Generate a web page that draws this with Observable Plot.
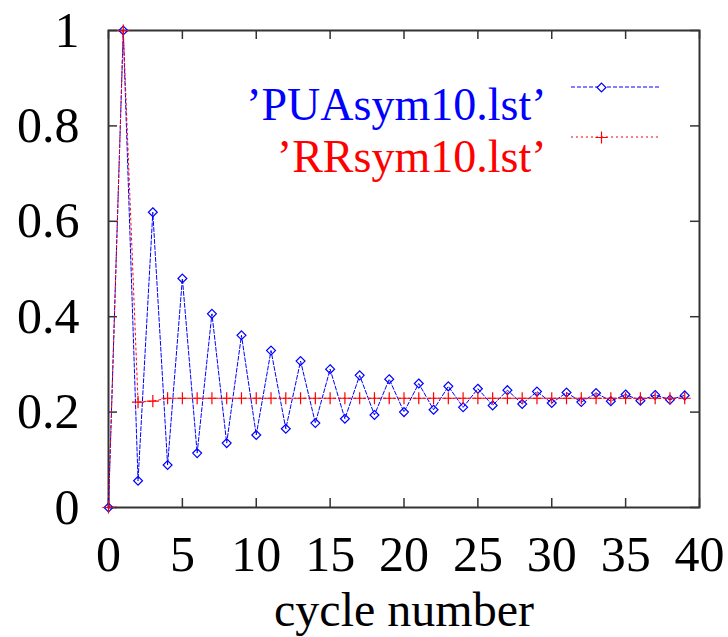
<!DOCTYPE html>
<html>
<head>
<meta charset="utf-8">
<script src="https://cdn.jsdelivr.net/npm/d3@7"></script>
<script src="https://cdn.jsdelivr.net/npm/@observablehq/plot@0.6"></script>
<style>
  html, body { margin: 0; padding: 0; background: #fff; }
  svg { display: block; }
</style>
</head>
<body>
<div id="chart"></div>
<script>
// ---- data ----
const cycles = [0,1,2,3,4,5,6,7,8,9,10,11,12,13,14,15,16,17,18,19,20,21,22,23,24,25,26,27,28,29,30,31,32,33,34,35,36,37,38,39];
const puaValues = [0, 1.0, 0.056, 0.619, 0.089, 0.480, 0.114, 0.406, 0.135, 0.361,
                   0.152, 0.329, 0.165, 0.307, 0.177, 0.290, 0.186, 0.277, 0.194, 0.269,
                   0.200, 0.260, 0.205, 0.254, 0.210, 0.249, 0.214, 0.246, 0.217, 0.243,
                   0.219, 0.241, 0.221, 0.240, 0.223, 0.237, 0.224, 0.236, 0.226, 0.235];
const rrValues = [0, 1.0, 0.221, 0.223, 0.229, 0.229, 0.229, 0.229, 0.229, 0.229,
                  0.229, 0.229, 0.229, 0.229, 0.229, 0.229, 0.229, 0.229, 0.229, 0.229,
                  0.229, 0.229, 0.229, 0.229, 0.229, 0.229, 0.229, 0.229, 0.229, 0.229,
                  0.229, 0.229, 0.229, 0.229, 0.229, 0.229, 0.229, 0.229, 0.229, 0.229];
const seriesNames = ["\u2019PUAsym10.lst\u2019", "\u2019RRsym10.lst\u2019"];
const xTicks = [0, 5, 10, 15, 20, 25, 30, 35, 40];
const yTicks = [0, 0.2, 0.4, 0.6, 0.8, 1];
const xLabel = "cycle number";

// ---- layout ----
const W = 728, H = 637;
const mL = 108, mR = 29, mT = 30, mB = 130;
const innerW = W - mL - mR, innerH = H - mT - mB;
const BLUE = "#0000ff", RED = "#ff0000", AXIS = "#333";
const TICK = 9;
const DIAMOND_R = 4, PLUS_R = 4;

const pua = cycles.map((c, i) => ({x: c, y: puaValues[i]}));
const rr = cycles.map((c, i) => ({x: c, y: rrValues[i]}));

const legend = [
  {name: seriesNames[0], color: BLUE, dash: "4,2", lineDy: 57, textDy: 57.3},
  {name: seriesNames[1], color: RED, dash: "2,3", lineDy: 107, textDy: 109.3}
];

function legendLines(index, scales, values, dims) {
  const g = d3.create("svg:g");
  const right = dims.width - dims.marginRight;
  const top = dims.marginTop;
  for (const item of legend) {
    g.append("line")
      .attr("x1", right - 128).attr("x2", right - 39)
      .attr("y1", top + item.lineDy).attr("y2", top + item.lineDy)
      .attr("stroke", item.color)
      .attr("stroke-width", 1)
      .attr("stroke-dasharray", item.dash);
  }
  return g.node();
}

const chart = Plot.plot({
  width: W, height: H,
  marginLeft: mL, marginRight: mR, marginTop: mT, marginBottom: mB,
  style: {fontFamily: "'Liberation Serif', 'Times New Roman', serif", fontSize: "50px", background: "#fff", color: "#000"},
  x: {domain: [0, 40]},
  y: {domain: [0, 1]},
  marks: [
    Plot.axisX(xTicks, {tickSize: 0, tickPadding: 28, tickFormat: d => String(d), fontSize: 50, label: null}),
    Plot.axisY(yTicks, {tickSize: 0, tickPadding: 29, tickFormat: d => String(d), fontSize: 50, label: null}),
    Plot.text([xLabel], {frameAnchor: "bottom", dy: 84, lineAnchor: "top", fontSize: 48, fill: "#000"}),
    // inward ticks (bottom, top, left, right)
    Plot.tickX(xTicks, {x: d => d, insetTop: innerH - TICK, stroke: AXIS, strokeWidth: 1.5}),
    Plot.tickX(xTicks, {x: d => d, insetBottom: innerH - TICK, stroke: AXIS, strokeWidth: 1.5}),
    Plot.tickY(yTicks, {y: d => d, insetRight: innerW - TICK, stroke: AXIS, strokeWidth: 1.5}),
    Plot.tickY(yTicks, {y: d => d, insetLeft: innerW - TICK, stroke: AXIS, strokeWidth: 1.5}),
    Plot.frame({stroke: AXIS, strokeWidth: 2}),
    // series
    Plot.line(pua, {x: "x", y: "y", stroke: BLUE, strokeWidth: 1, strokeDasharray: "4,2"}),
    Plot.dot(pua, {x: "x", y: "y", symbol: "diamond2", r: DIAMOND_R, stroke: BLUE, strokeWidth: 1.2, fill: "none"}),
    Plot.line(rr, {x: "x", y: "y", stroke: RED, strokeWidth: 1, strokeDasharray: "2,3"}),
    Plot.dot(rr, {x: "x", y: "y", symbol: "plus", r: PLUS_R, stroke: RED, strokeWidth: 1.2}),
    // legend
    Plot.text([legend[0]], {text: "name", fill: BLUE, frameAnchor: "top-right", textAnchor: "end", dx: -153, dy: legend[0].textDy, fontSize: 46}),
    Plot.text([legend[1]], {text: "name", fill: RED, frameAnchor: "top-right", textAnchor: "end", dx: -153, dy: legend[1].textDy, fontSize: 46}),
    legendLines,
    Plot.dot([legend[0]], {frameAnchor: "top-right", dx: -98, dy: legend[0].lineDy, symbol: "diamond2", r: DIAMOND_R, stroke: BLUE, strokeWidth: 1.2, fill: "white"}),
    Plot.dot([legend[1]], {frameAnchor: "top-right", dx: -98, dy: legend[1].lineDy, symbol: "plus", r: PLUS_R, stroke: RED, strokeWidth: 1.2})
  ]
});
document.getElementById("chart").appendChild(chart);
</script>
</body>
</html>
